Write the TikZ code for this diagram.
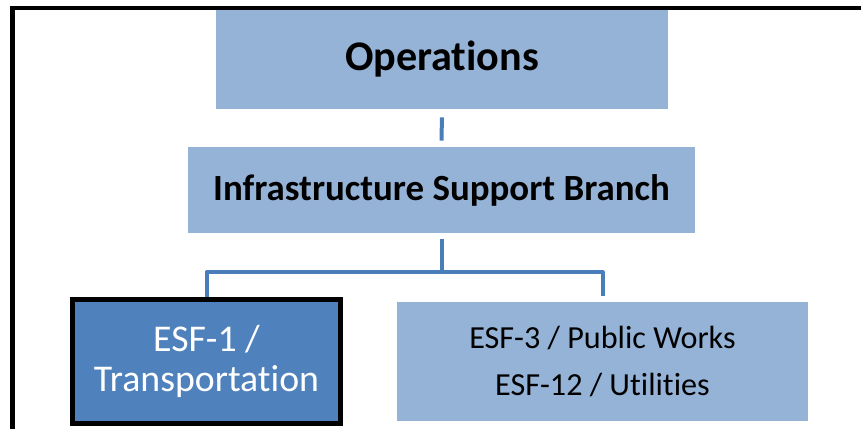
\documentclass[tikz,border=0pt]{standalone}
\usepackage{fontspec}
\setmainfont[Ligatures=NoCommon]{Carlito}
\definecolor{lightblue}{HTML}{95B3D7}
\definecolor{darkblue}{HTML}{4F81BD}
\definecolor{linkblue}{HTML}{4A7EBB}

\tikzstyle{box}=[rectangle, fill=lightblue, align=center, inner sep=0pt]
\tikzstyle{connector}=[-, line width=0.08cm, draw=linkblue, line join=round]
\tikzstyle{frame}=[-, line width=0.08cm, black]

\begin{document}
\begin{tikzpicture}
    \useasboundingbox (0,0) rectangle (17.22,-8.58);
    \draw[frame] (0.25,-8.58) -- (0.25,-0.17) -- (17.22,-0.17);

    \node (operations) at (8.84, -1.19) [box, minimum width=9.04cm, minimum height=1.98cm, font=\fontsize{24}{28}\selectfont\bfseries] {Operations};
    \node (infrastructure branch) at (8.83, -3.8) [box, minimum width=10.14cm, minimum height=1.72cm, font=\fontsize{21}{25}\selectfont\bfseries] {Infrastructure Support Branch};
    \node (esf1) at (4.13, -7.23) [box, fill=darkblue, draw=black, line width=0.1cm, text=white, minimum width=5.36cm, minimum height=2.48cm, font=\fontsize{21.5}{23}\selectfont] {ESF-1 /\\Transportation};
    \node (esf3) at (12.05, -7.23) [box, minimum width=8.22cm, minimum height=2.38cm, font=\fontsize{18.3}{27}\selectfont] {ESF-3 / Public Works\\ESF-12 / Utilities};

    \draw[connector, shorten <=0.16cm, shorten >=0.12cm] (operations.south) -- (infrastructure branch.north);
    \draw[connector] ([yshift=-0.12cm]infrastructure branch.south) -- ++(0,-0.66) -| (esf1.north);
    \draw[connector, shorten >=0.12cm] ([yshift=-0.12cm]infrastructure branch.south) -- ++(0,-0.66) -| (esf3.north);
\end{tikzpicture}
\end{document}
